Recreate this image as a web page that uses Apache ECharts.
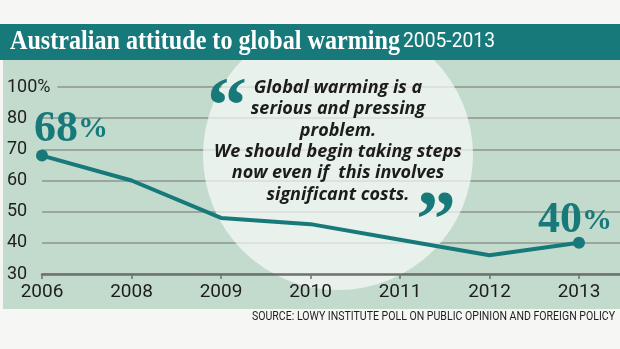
<!DOCTYPE html>
<html>
<head>
<meta charset="utf-8">
<script src="https://cdn.jsdelivr.net/npm/echarts@6/dist/echarts.min.js"></script>
<style>
  html, body { margin: 0; padding: 0; background: #f6f6f4; }
  #chart { width: 620px; height: 349px; }
</style>
</head>
<body>
<div id="chart"></div>
<script>
// Survey years (the trailing blank slot only lets the rules run on past the last year)
const years = ['2006', '2008', '2009', '2010', '2011', '2012', '2013', ''];
// Share agreeing with the statement, per cent
const agreePct = [68, 60, 48, 46, 41, 36, 40];
// Vertical axis ticks and the text printed beside them
const yTicks = [30, 40, 50, 60, 70, 80, 90];
const yTickLabels = ['30', '40', '50', '60', '70', '80', '100%'];

const titleMain = 'Australian attitude to global warming';
const titleYears = '2005-2013';
const quoteLines = [
  'Global warming is a',
  'serious and pressing',
  'problem.',
  'We should begin taking steps',
  'now even if  this involves',
  'significant costs.'
];
const sourceText = 'SOURCE: LOWY INSTITUTE POLL ON PUBLIC OPINION AND FOREIGN POLICY';

const TEAL = '#18797b';
const PANEL = '#c3dbcd';

// horizontal squeeze needed for a string to occupy a given width
const measureCtx = document.createElement('canvas').getContext('2d');
function fitScale(text, font, width) {
  measureCtx.font = font;
  return width / measureCtx.measureText(text).width;
}

const chart = echarts.init(document.getElementById('chart'), null, { renderer: 'canvas' });

const lastIdx = agreePct.length - 1;
const seriesData = agreePct.map((v, i) => ({
  value: v,
  label: {
    show: i === 0 || i === lastIdx,
    offset: i === 0 ? [29, 7] : [-4, 11]
  },
  symbolSize: (i === 0 || i === lastIdx) ? 12 : 0
}));

const titleFont = 'bold 27px "Liberation Serif"';
const yearsFont = '21px Roboto';
const sourceFont = '12px Roboto';

chart.setOption({
  backgroundColor: '#f6f6f4',
  animation: false,
  grid: { left: 42, top: 87, width: 626.5, height: 187, outerBoundsMode: 'none', containLabel: false },
  xAxis: {
    type: 'category',
    data: years,
    boundaryGap: false,
    z: 3,
    axisLine: { lineStyle: { color: '#6f716f', width: 2.5 } },
    axisTick: { show: true, length: 5, inside: false, lineStyle: { color: '#6f716f', width: 1.5 } },
    axisLabel: { color: '#1e1e1e', fontFamily: 'Roboto', fontSize: 19, margin: 9 },
    splitLine: { show: false }
  },
  yAxis: {
    type: 'value',
    min: 30, max: 90, interval: 10,
    axisLine: { show: false },
    axisTick: { show: false },
    axisLabel: {
      color: '#1e1e1e', fontFamily: 'Roboto', fontSize: 18,
      align: 'left', margin: 35,
      backgroundColor: PANEL, padding: [0, 7, 0, 0],
      formatter: v => yTickLabels[yTicks.indexOf(v)]
    },
    splitLine: { lineStyle: { color: '#8e958f', width: 1.5 } }
  },
  series: [{
    type: 'line',
    data: seriesData,
    symbol: 'circle',
    z: 5,
    lineStyle: { color: TEAL, width: 4 },
    itemStyle: { color: TEAL },
    label: {
      position: 'top',
      formatter: p => '{n|' + p.value + '}{p|%}',
      rich: {
        n: { fontFamily: 'Liberation Serif', fontWeight: 'bold', fontSize: 44, color: TEAL },
        p: { fontFamily: 'Liberation Serif', fontWeight: 'bold', fontSize: 30, color: TEAL }
      }
    }
  }],
  graphic: [
    { type: 'rect', z: -10, silent: true, shape: { x: 3, y: 60, width: 617, height: 249 }, style: { fill: PANEL } },
    { type: 'circle', z: 1, silent: true, shape: { cx: 338, cy: 155, r: 135 }, style: { fill: 'rgba(246,249,246,0.72)' } },
    // title band laid over the circle's top
    { type: 'rect', z: 2, silent: true, shape: { x: 0, y: 24, width: 620, height: 36 }, style: { fill: TEAL } },
    { type: 'rect', z: 2, silent: true, shape: { x: 0, y: 0, width: 620, height: 24 }, style: { fill: '#f6f6f4' } },
    {
      type: 'text', z: 20, x: 10, y: 42,
      scaleX: fitScale(titleMain, titleFont, 390), originX: 0, originY: 0,
      style: { text: titleMain, font: titleFont, fill: '#ffffff', textVerticalAlign: 'middle' }
    },
    {
      type: 'text', z: 20, x: 403, y: 42,
      scaleX: fitScale(titleYears, yearsFont, 92), originX: 0, originY: 0,
      style: { text: titleYears, font: yearsFont, fill: '#ffffff', textVerticalAlign: 'middle' }
    },
    {
      type: 'text', z: 20, x: 338, y: 77,
      style: {
        text: quoteLines.join('\n'), fill: '#1c1c1c',
        fontFamily: 'Open Sans', fontStyle: 'italic', fontWeight: 'bold', fontSize: 18,
        lineHeight: 21.4, textAlign: 'center', textVerticalAlign: 'top'
      }
    },
    {
      type: 'text', z: 20, x: 227, y: 111,
      style: { text: '\u201C', fill: TEAL, fontFamily: 'Liberation Serif', fontWeight: 'bold', fontSize: 80, textAlign: 'center', textVerticalAlign: 'middle' }
    },
    {
      type: 'text', z: 20, x: 436, y: 225,
      style: { text: '\u201D', fill: TEAL, fontFamily: 'Liberation Serif', fontWeight: 'bold', fontSize: 80, textAlign: 'center', textVerticalAlign: 'middle' }
    },
    {
      type: 'text', z: 20, x: 615, y: 317,
      scaleX: fitScale(sourceText, sourceFont, 363), originX: 0, originY: 0,
      style: { text: sourceText, font: sourceFont, fill: '#1e1e1e', textAlign: 'right', textVerticalAlign: 'middle' }
    }
  ]
});
</script>
</body>
</html>
